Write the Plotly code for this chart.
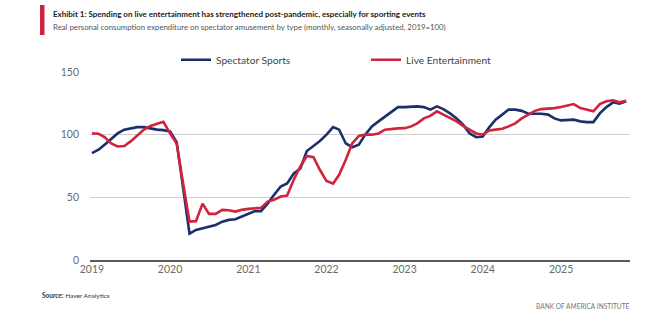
import plotly.graph_objects as go
import pandas as pd

months = pd.date_range("2019-01-01", "2025-11-01", freq="MS")

spectator_sports = [
    85.3, 88, 92, 96.5, 101, 104, 105, 106, 106, 105, 104, 103.6,
    102.5, 94, 57, 21, 24, 25.3, 26.6, 28, 30.6, 32, 32.5, 34.6,
    37.3, 39, 39, 45, 52, 58.6, 61, 69, 73, 87, 91, 95,
    100, 106, 104, 93, 90, 92, 100, 106.6, 110.6, 114.6, 118.6, 122,
    122, 122.6, 122.6, 122, 120, 122.6, 120.4, 117, 113, 108, 101, 98,
    98.6, 106, 112, 116, 120, 120, 119, 116.7, 116.7, 116.7, 116, 113,
    111.4, 111.4, 112, 110.6, 110, 110, 117, 122, 125.8, 124.7, 126.6,
]

live_entertainment = [
    101, 100.7, 98, 93, 90.6, 91, 94.6, 99, 104, 107, 109, 110.3,
    101, 93, 62, 30.6, 31, 45, 36.8, 36.8, 40, 39.7, 38.6, 40,
    40.8, 41, 41.6, 46.6, 48, 50.6, 51.4, 64, 74.6, 83, 82, 72,
    63, 61, 68, 80, 93, 99, 100, 100, 101, 104, 104.7, 105,
    105.2, 106.6, 109, 113, 115, 118.6, 116, 113, 110.6, 107, 104, 101,
    100, 103.4, 104, 104.7, 106.6, 109, 113, 116, 119, 120.4, 120.7, 121.2,
    122, 123, 124.4, 121.2, 120, 118.6, 124.4, 126.6, 127.4, 125.8, 127,
]

series_names = ["Spectator Sports", "Live Entertainment"]
series_colors = ["#1b2f6b", "#d2223c"]

y_ticks = [0, 50, 100, 150]
x_tick_years = [2019, 2020, 2021, 2022, 2023, 2024, 2025]

title_text = "Exhibit 1: Spending on live entertainment has strengthened post-pandemic, especially for sporting events"
subtitle_text = "Real personal consumption expenditure on spectator amusement by type (monthly, seasonally adjusted, 2019=100)"
source_text = "<b>Source:</b> Haver Analytics"
brand_text = "BANK OF AMERICA INSTITUTE"

FONT = "Lato, Roboto, sans-serif"

W, H = 670, 322
L, R, T, B = 90, 40, 72, 62
pw, ph = W - L - R, H - T - B


def px_x(x):
    return (x - L) / pw


def px_y(y):
    return (H - B - y) / ph


fig = go.Figure()
for name, vals, col in zip(series_names, [spectator_sports, live_entertainment], series_colors):
    fig.add_trace(go.Scatter(x=months, y=vals, mode="lines", name=name,
                             line=dict(color=col, width=2.6)))

fig.update_layout(
    width=W, height=H,
    margin=dict(l=L, r=R, t=T, b=B),
    paper_bgcolor="white", plot_bgcolor="white",
    font=dict(family=FONT, color="#555555", size=11),
    showlegend=True,
    legend=dict(orientation="h", x=px_x(176), y=px_y(59.7), xanchor="left", yanchor="middle",
                entrywidth=145, font=dict(size=10.2, color="#444444"),
                bgcolor="rgba(0,0,0,0)", itemwidth=30),
    xaxis=dict(
        range=[pd.Timestamp("2018-12-23"), pd.Timestamp("2025-11-19")],
        tickvals=[pd.Timestamp(f"{y}-01-01") for y in x_tick_years],
        ticktext=[str(y) for y in x_tick_years],
        showgrid=False, showline=True, linecolor="#5a5a5a", linewidth=1.5,
        ticks="", ticklabelstandoff=-1, zeroline=False,
        tickfont=dict(size=10.5, color="#6a6a6a"),
    ),
    yaxis=dict(
        range=[0, 150], tickvals=y_ticks,
        showgrid=True, gridcolor="#cfcfcf", gridwidth=1,
        zeroline=False, showline=False, ticks="", ticklabelstandoff=10,
        tickfont=dict(size=10.5, color="#6a6a6a"),
    ),
    shapes=[dict(type="rect", xref="paper", yref="paper",
                 x0=px_x(40), x1=px_x(44.5), y0=px_y(35), y1=px_y(5),
                 fillcolor="#d2223c", line=dict(width=0), layer="above")],
    annotations=[
        dict(text="<b>" + title_text + "</b>", xref="paper", yref="paper",
             x=px_x(51), y=px_y(14.5), xanchor="left", yanchor="middle", showarrow=False,
             font=dict(size=8.0, color="#1a1a1a", family=FONT)),
        dict(text=subtitle_text, xref="paper", yref="paper",
             x=px_x(51), y=px_y(26.5), xanchor="left", yanchor="middle", showarrow=False,
             font=dict(size=7.8, color="#555555", family=FONT)),
        dict(text=source_text, xref="paper", yref="paper",
             x=px_x(40), y=px_y(295), xanchor="left", yanchor="middle", showarrow=False,
             font=dict(size=6.5, color="#333333", family=FONT)),
        dict(text=brand_text, xref="paper", yref="paper",
             x=px_x(632), y=px_y(306), xanchor="right", yanchor="middle", showarrow=False,
             font=dict(size=6.6, color="#777777", family=FONT)),
    ],
)

fig.write_html("out.html")
